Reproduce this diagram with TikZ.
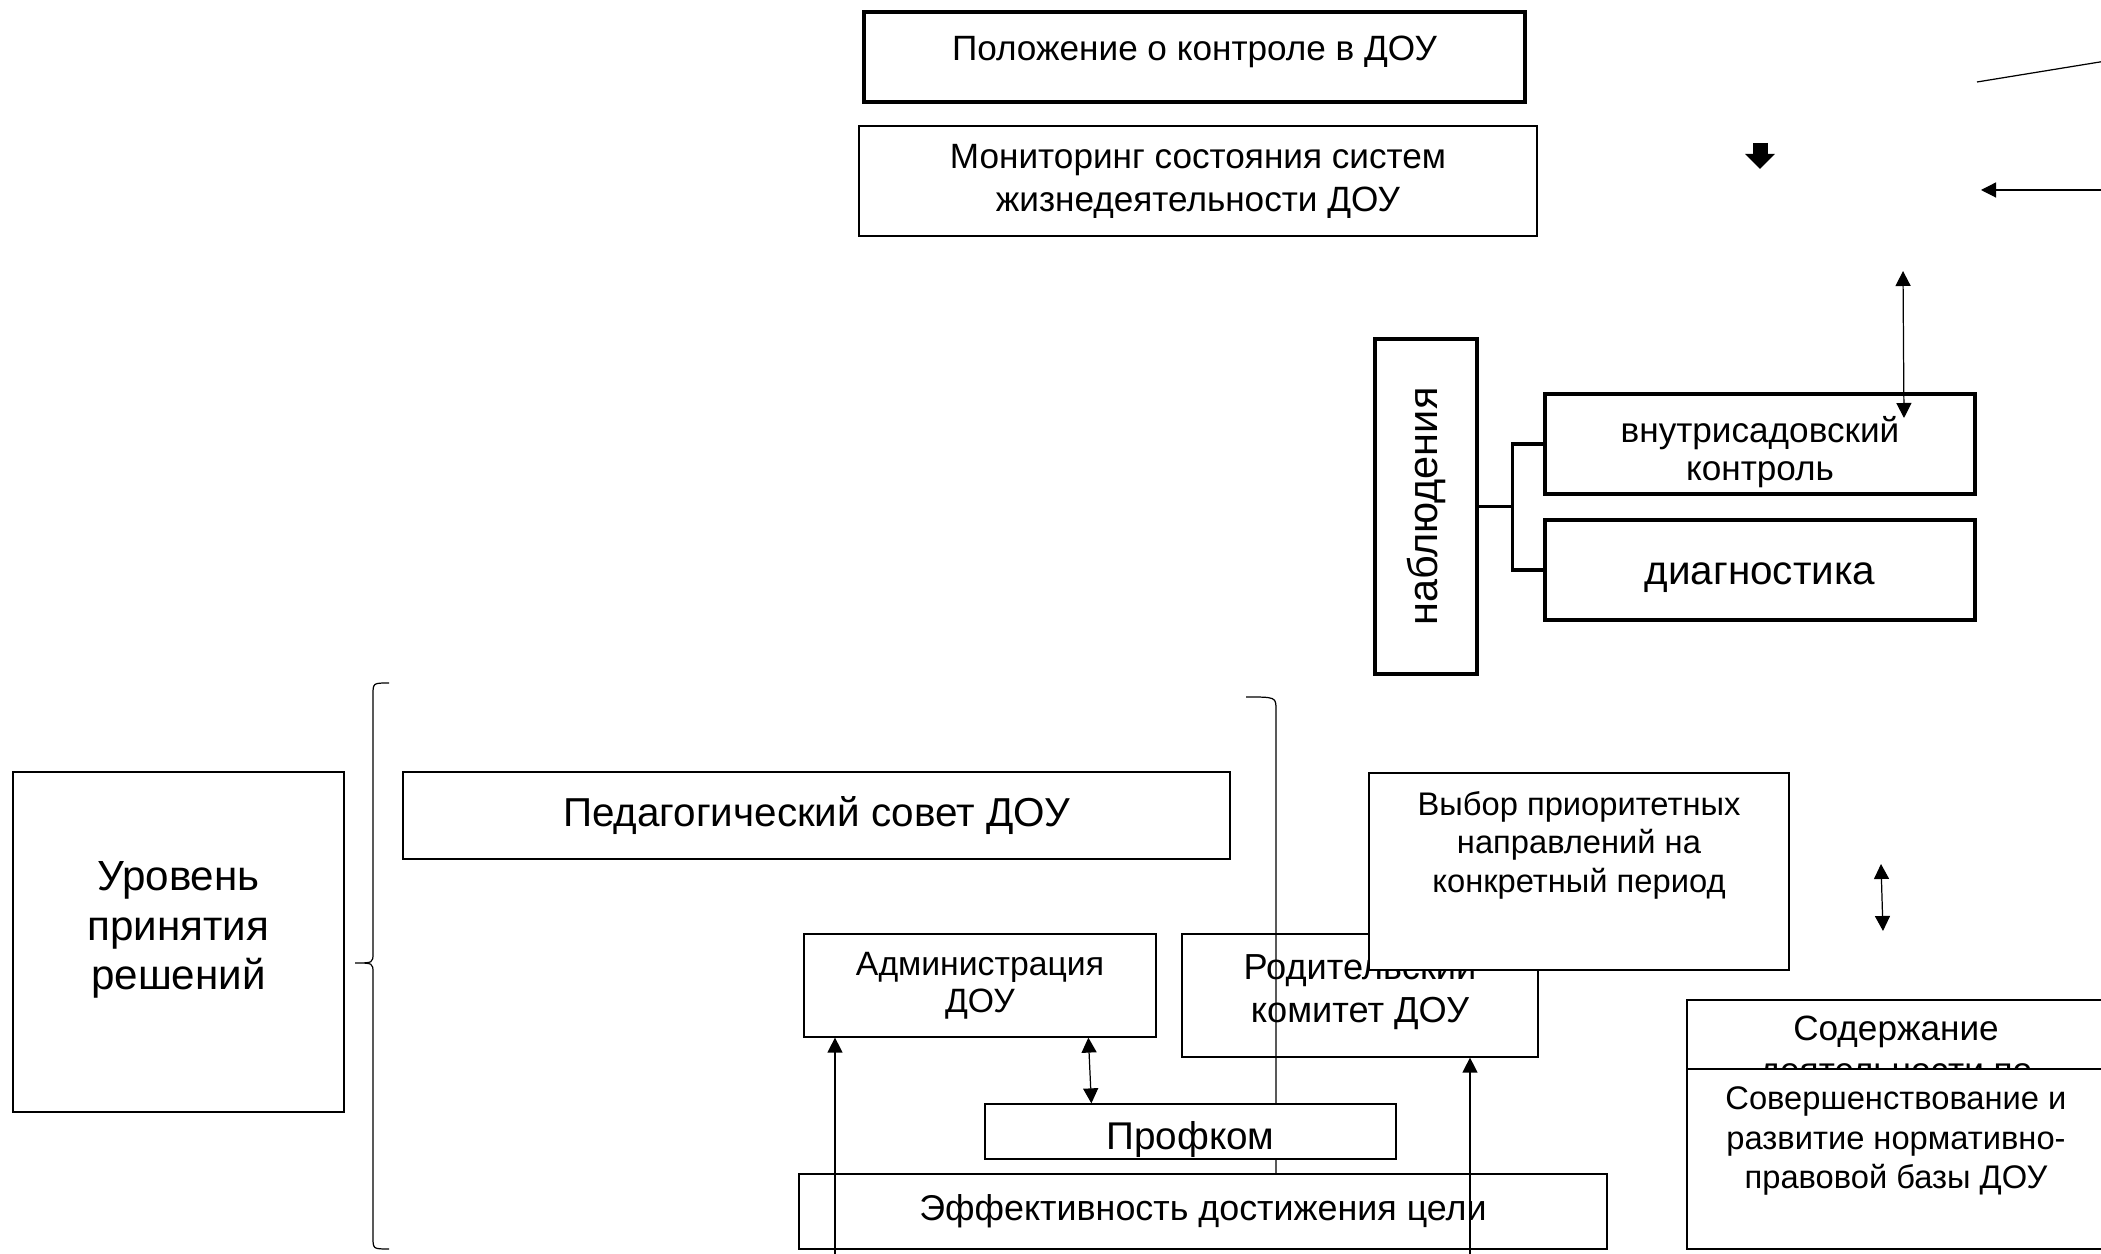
\documentclass[tikz,border=0pt]{standalone}
\usepackage{fontspec}
\setmainfont{Liberation Sans}
\usetikzlibrary{positioning,calc,arrows.meta}

\begin{document}
\begin{tikzpicture}[x=1mm,y=-1mm,%
      box/.style={draw,fill=white,line width=0.35pt,inner sep=0pt,align=center},%
      thickbox/.style={box,line width=0.9pt},%
      txt/.style={inner sep=0pt,align=center},%
      arr/.style={line width=0.35pt,-{Triangle[length=1.5mm,width=1.5mm]}},%
      darr/.style={line width=0.35pt,{Triangle[length=1.5mm,width=1.5mm]}-{Triangle[length=1.5mm,width=1.5mm]}}]
      \useasboundingbox (0,0) rectangle (210.1,125.4);

      % % Top
      \node[thickbox,minimum width=66.1mm,minimum height=9mm] (polozh) at (119.45,5.7) {};
      \node[txt,font=\fontsize{10}{12}\selectfont,yshift=0.5mm] (polozhT) at (polozh) {Положение о контроле в ДОУ};
      \node[box,minimum width=67.8mm,minimum height=11mm,font=\fontsize{10}{12.2}\selectfont] (monit) at (119.8,18.1) {Мониторинг состояния систем\\жизнедеятельности ДОУ};

      \coordinate (lineA) at (197.7,8.2);
      \coordinate (lineB) at (210.6,6.1);
      \draw[line width=0.35pt] (lineA) -- (lineB);
      \coordinate (inR) at (210.6,19.0);
      \coordinate (inL) at (198.1,19.0);
      \draw[arr] (inR) -- (inL);
      \coordinate (blkT) at (176.0,14.3);
      \coordinate (blkB) at (176.0,16.9);
      \draw[line width=1.5mm,-{Triangle[length=1.5mm,width=2.9mm]}] (blkT) -- (blkB);

      % % Observation
      \node[thickbox,minimum width=10.2mm,minimum height=33.5mm,font=\fontsize{11.8}{14}\selectfont] (nabl) at (142.6,50.65) {\rotatebox{90}{наблюдения}};
      \node[thickbox,minimum width=43mm,minimum height=10mm] (vnutri) at (176,44.4) {};
      \node[txt,font=\fontsize{10}{11}\selectfont,yshift=-0.8mm] (vnutriT) at (vnutri) {внутрисадовский\\контроль};
      \node[thickbox,minimum width=43mm,minimum height=10mm] (diag) at (176,57) {};
      \node[txt,font=\fontsize{11.5}{14}\selectfont,yshift=-0.8mm] (diagT) at (diag) {диагностика};
      \coordinate (fork) at ($(nabl.east)+(3.4,0)$);
      \draw[line width=0.9pt] (nabl.east) -- (fork);
      \draw[line width=0.9pt] (vnutri.west) -| (fork) |- (diag.west);
      \coordinate (vcT) at (190.3,27.1);
      \coordinate (vcB) at (190.4,41.8);
      \draw[darr] (vcT) -- (vcB);

      % % Decision level
      \node[box,minimum width=33.1mm,minimum height=34mm] (uroven) at (17.85,94.2) {};
      \node[txt,font=\fontsize{12}{14}\selectfont,yshift=1.2mm] (urovenT) at (uroven) {Уровень\\принятия\\решений};
      \draw[line width=0.35pt] (38.9,68.3) .. controls (37.3,68.3) .. (37.3,69.5) -- (37.3,95.3)
            .. controls (37.3,96.3) .. (35.5,96.3) .. controls (37.3,96.3) .. (37.3,97.3)
            -- (37.3,123.7) .. controls (37.3,124.9) .. (38.9,124.9);
      \node[box,minimum width=82.7mm,minimum height=8.7mm,font=\fontsize{11.5}{14}\selectfont] (ped) at (81.65,81.55) {Педагогический совет ДОУ};
      \node[box,minimum width=35.6mm,minimum height=12.3mm] (rodit) at (136,99.55) {};
      \node[txt,font=\fontsize{10.3}{12.3}\selectfont,yshift=0.4mm] (roditT) at (rodit) {Родительский\\комитет ДОУ};
      \draw[line width=0.35pt] (124.6,69.7) .. controls (127.6,69.7) .. (127.6,71.0) -- (127.6,124.5);
      \node[box,minimum width=42mm,minimum height=19.7mm] (vybor) at (157.9,87.15) {};
      \node[txt,font=\fontsize{9.3}{11}\selectfont,below=1.8mm of vybor.north] (vyborT) {Выбор приоритетных\\направлений на\\конкретный период};
      \node[box,minimum width=35.2mm,minimum height=10.3mm,font=\fontsize{9.6}{10.5}\selectfont] (admin) at (98,98.55) {Администрация\\ДОУ};
      \node[box,minimum width=41.1mm,minimum height=5.5mm] (profkom) at (119.05,113.15) {};
      \node[txt,font=\fontsize{11}{13}\selectfont,yshift=-0.8mm] (profkomT) at (profkom) {Профком};
      \node[box,minimum width=80.8mm,minimum height=7.5mm,font=\fontsize{10.2}{12}\selectfont] (effekt) at (120.3,121.15) {Эффективность достижения цели};

      \coordinate (adminIn) at (83.5,126);
      \draw[arr] (adminIn) -- (adminIn |- admin.south);
      \coordinate (roditIn) at (147.0,126);
      \draw[arr] (roditIn) -- (roditIn |- rodit.south);
      \draw[darr] ($(admin.south west)+(28.5,0)$) -- ($(profkom.north west)+(10.7,0)$);
      \coordinate (vbT) at (188.1,86.4);
      \coordinate (vbB) at (188.3,93.1);
      \draw[darr] (vbT) -- (vbB);

      % % Right column
      \node[box,minimum width=41.8mm,minimum height=7.2mm] (soderz) at (189.6,103.6) {};
      \node[txt,font=\fontsize{10}{12}\selectfont,below=1.6mm of soderz.north] (soderzT) {Содержание\\деятельности по};
      \node[box,minimum width=41.8mm,minimum height=18mm] (soversh) at (189.6,115.9) {};
      \node[txt,font=\fontsize{9.3}{11.2}\selectfont,below=1.8mm of soversh.north] (sovershT) {Совершенствование и\\развитие нормативно-\\правовой базы ДОУ};
\end{tikzpicture}
\end{document}
